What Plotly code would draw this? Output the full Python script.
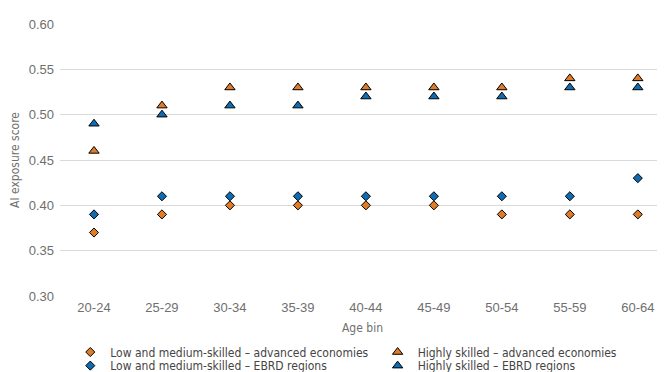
import plotly.graph_objs as go

## Dados
age_bins = ['20-24', '25-29', '30-34', '35-39', '40-44', '45-49', '50-54', '55-59', '60-64']
low_adv = [0.37, 0.39, 0.40, 0.40, 0.40, 0.40, 0.39, 0.39, 0.39]
high_adv = [0.46, 0.51, 0.53, 0.53, 0.53, 0.53, 0.53, 0.54, 0.54]
low_ebrd = [0.39, 0.41, 0.41, 0.41, 0.41, 0.41, 0.41, 0.41, 0.43]
high_ebrd = [0.49, 0.50, 0.51, 0.51, 0.52, 0.52, 0.52, 0.53, 0.53]

orange = '#E07B28'
blue = '#0F6CB3'
cinza = '#6f6f6f'
cond = 'DejaVu Sans Condensed, Liberation Sans Narrow, Liberation Sans'

# nome, valores, cor, símbolo, tamanho, legenda (uma por entrada)
series = [
    ('Low and medium-skilled – advanced economies', low_adv, orange, 'diamond', 7, 'legend'),
    ('Highly skilled – advanced economies', high_adv, orange, 'triangle-up', 9, 'legend2'),
    ('Low and medium-skilled – EBRD regions', low_ebrd, blue, 'diamond', 7, 'legend3'),
    ('Highly skilled – EBRD regions', high_ebrd, blue, 'triangle-up', 9, 'legend4'),
]

fig = go.Figure()
for name, vals, cor, simb, tam, leg in series:
    fig.add_trace(go.Scatter(x=age_bins, y=vals, mode='markers', name=name, legend=leg,
                             marker=dict(color=cor, symbol=simb, size=tam,
                                         line=dict(color='black', width=1))))

fig.update_xaxes(type='category', range=[-0.5, 8.4], showgrid=False, showline=False,
                 ticks='', automargin=False, ticklabelstandoff=2,
                 tickfont=dict(family='Liberation Sans', size=13, color=cinza),
                 title=dict(text='Age bin', font=dict(family=cond, size=12, color=cinza), standoff=9))
fig.update_yaxes(range=[0.30, 0.60], dtick=0.05, tickformat='.2f', showgrid=True,
                 gridcolor='#d9d9d9', gridwidth=1, zeroline=False, showline=False,
                 ticks='', automargin=False, ticklabelstandoff=5,
                 tickfont=dict(family='Liberation Sans', size=13, color=cinza),
                 title=dict(text='AI exposure score', font=dict(family=cond, size=12, color=cinza), standoff=8))

leg_base = dict(orientation='v', xanchor='left', yanchor='middle',
                bgcolor='rgba(0,0,0,0)', itemwidth=30, font=dict(family=cond, size=12, color='#444444'))
pos = {'legend': (0.017, -0.206), 'legend2': (0.525, -0.206),
       'legend3': (0.017, -0.256), 'legend4': (0.525, -0.256)}
legs = {k: dict(leg_base, x=x, y=y) for k, (x, y) in pos.items()}

# a página tem margem de 8px no body: figura 8px menor
fig.update_layout(width=657, height=364, template='plotly_white', showlegend=True,
                  font=dict(family='Liberation Sans', color=cinza),
                  margin=dict(l=52, r=0, t=16, b=76, autoexpand=False),
                  plot_bgcolor='white', paper_bgcolor='white',
                  **legs)

fig.write_html("out.html")
